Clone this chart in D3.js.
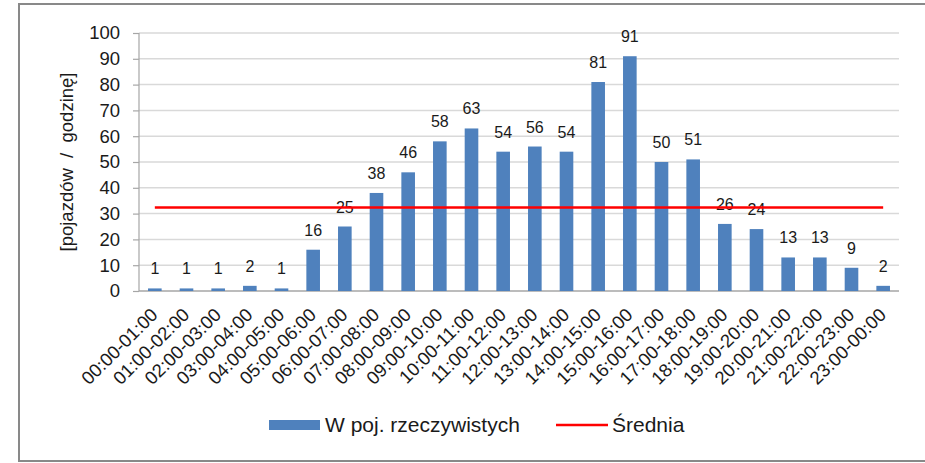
<!DOCTYPE html>
<meta charset="utf-8">
<script src="https://d3js.org/d3.v7.js"></script>
<style>
  body { margin: 0; background: #fff; }
  text { font-family: Arial, "Liberation Sans", sans-serif; fill: #1a1a1a; }
</style>
<div id="chart"></div>

<script>

var hours = ["00:00-01:00", "01:00-02:00", "02:00-03:00", "03:00-04:00", "04:00-05:00",
  "05:00-06:00", "06:00-07:00", "07:00-08:00", "08:00-09:00", "09:00-10:00",
  "10:00-11:00", "11:00-12:00", "12:00-13:00", "13:00-14:00", "14:00-15:00",
  "15:00-16:00", "16:00-17:00", "17:00-18:00", "18:00-19:00", "19:00-20:00",
  "20:00-21:00", "21:00-22:00", "22:00-23:00", "23:00-00:00"];

var vehicles = [1, 1, 1, 2, 1, 16, 25, 38, 46, 58, 63, 54, 56, 54, 81, 91, 50, 51, 26, 24, 13, 13, 9, 2];

var yTicks = [0, 10, 20, 30, 40, 50, 60, 70, 80, 90, 100];

var seriesNames = ["W poj. rzeczywistych", "Średnia"];

var W = 925, H = 463;
var plot = {left: 139, right: 899, top: 33, bottom: 291};

var svg = d3.select("#chart")
  .append("svg")
    .attr("width", W)
    .attr("height", H);

// outer frame
svg.append("rect")
  .attr("x", 19)
  .attr("y", 4)
  .attr("width", W)
  .attr("height", 457)
  .attr("fill", "none")
  .attr("stroke", "#898989")
  .attr("stroke-width", 2);

var x = d3.scaleBand()
  .domain(hours)
  .range([plot.left, plot.right])
  .paddingInner(0.57)
  .paddingOuter(0.285);

var y = d3.scaleLinear()
  .domain([0, 100])
  .range([plot.bottom, plot.top]);

// gridlines
svg.append("g")
  .selectAll("line")
  .data(yTicks.filter(function(d) { return d > 0; }))
  .enter()
  .append("line")
    .attr("x1", plot.left)
    .attr("x2", plot.right)
    .attr("y1", function(d) { return y(d); })
    .attr("y2", function(d) { return y(d); })
    .attr("stroke", "#d9d9d9")
    .attr("stroke-width", 1.5);

// y axis
var yAxis = svg.append("g")
  .attr("transform", "translate(" + plot.left + ",0)")
  .call(d3.axisLeft(y).tickValues(yTicks).tickSize(6).tickPadding(13));
yAxis.selectAll("path, line").attr("stroke", "#a6a6a6").attr("stroke-width", 1.2);
yAxis.select("path").attr("d", "M0," + plot.bottom + "V" + plot.top);
yAxis.selectAll("text")
  .attr("font-size", 18.5)
  .attr("font-family", "Arial, 'Liberation Sans', sans-serif")
  .attr("fill", "#1a1a1a");

// x axis
svg.append("line")
  .attr("x1", plot.left)
  .attr("x2", plot.right)
  .attr("y1", plot.bottom)
  .attr("y2", plot.bottom)
  .attr("stroke", "#a6a6a6")
  .attr("stroke-width", 1.5);

svg.append("g")
  .selectAll("text")
  .data(hours)
  .enter()
  .append("text")
    .attr("transform", function(d) {
      return "translate(" + (x(d) + x.bandwidth() / 2 + 4) + "," + (plot.bottom + 25) + ") rotate(-45)";
    })
    .attr("text-anchor", "end")
    .attr("font-size", 18.5)
    .text(function(d) { return d; });

// bars
svg.append("g")
  .selectAll("rect")
  .data(vehicles)
  .enter()
  .append("rect")
    .attr("x", function(d, i) { return x(hours[i]); })
    .attr("y", function(d) { return y(d); })
    .attr("width", x.bandwidth())
    .attr("height", function(d) { return plot.bottom - y(d); })
    .attr("fill", "#4f81bd");

// bar value labels
svg.append("g")
  .selectAll("text")
  .data(vehicles)
  .enter()
  .append("text")
    .attr("x", function(d, i) { return x(hours[i]) + x.bandwidth() / 2; })
    .attr("y", function(d) { return y(d) - 14; })
    .attr("text-anchor", "middle")
    .attr("font-size", 16)
    .text(function(d) { return d; });

// average line
var avg = d3.mean(vehicles);
svg.append("line")
  .attr("x1", x(hours[0]) + x.bandwidth() / 2)
  .attr("x2", x(hours[hours.length - 1]) + x.bandwidth() / 2)
  .attr("y1", y(avg))
  .attr("y2", y(avg))
  .attr("stroke", "#ff0000")
  .attr("stroke-width", 2.5);

// y axis title
svg.append("text")
  .attr("transform", "translate(73," + ((plot.top + plot.bottom) / 2) + ") rotate(-90)")
  .attr("text-anchor", "middle")
  .attr("font-size", 18.5)
  .style("white-space", "pre")
  .text("[pojazdów  /  godzinę]");

// legend
var legend = svg.append("g");
legend.append("rect")
  .attr("x", 269)
  .attr("y", 420)
  .attr("width", 51)
  .attr("height", 10)
  .attr("fill", "#4f81bd");
legend.append("text")
  .attr("x", 325)
  .attr("y", 432)
  .attr("font-size", 21)
  .text(seriesNames[0]);
legend.append("line")
  .attr("x1", 556)
  .attr("x2", 608)
  .attr("y1", 425)
  .attr("y2", 425)
  .attr("stroke", "#ff0000")
  .attr("stroke-width", 2.5);
legend.append("text")
  .attr("x", 612)
  .attr("y", 432)
  .attr("font-size", 21)
  .text(seriesNames[1]);

</script>
